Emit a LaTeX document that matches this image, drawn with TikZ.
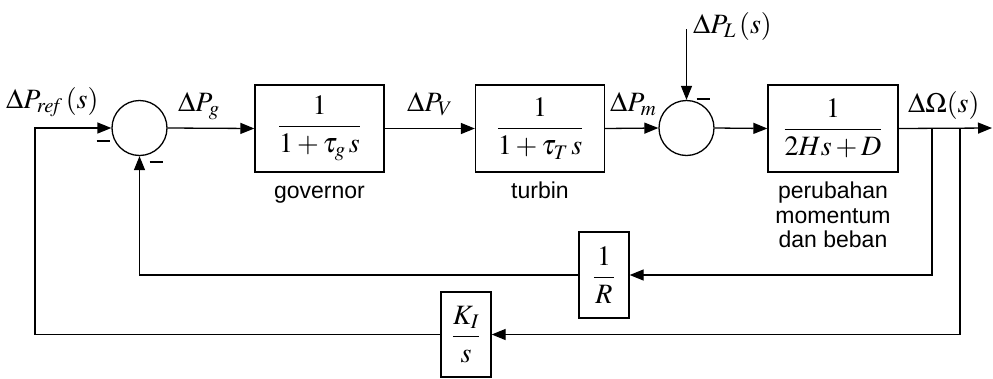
\documentclass[tikz,border=0pt]{standalone}
\usepackage{amsmath}
\usepackage{mathptmx}
\usepackage{fontspec}
\setmainfont{Liberation Serif}
\setsansfont{Liberation Sans}
\usetikzlibrary{arrows.meta}
\begin{document}
\begin{tikzpicture}[x=1pt,y=-1pt,
  arr/.style={line width=1.3pt,-{Triangle[length=14pt,width=11pt]}},
  blk/.style={draw,line width=1.3pt,inner sep=0pt,minimum width=129pt,minimum height=87pt,font=\fontsize{28}{32}\selectfont},
  sblk/.style={draw,line width=1.3pt,inner sep=0pt,minimum width=50pt,minimum height=86pt,font=\fontsize{28}{32}\selectfont},
  sumc/.style={draw,circle,line width=1.3pt,minimum size=55pt,inner sep=0pt},
  lbl/.style={inner sep=0pt,anchor=base west,font=\fontsize{28}{32}\selectfont},
  mns/.style={inner sep=0pt},
  capt/.style={inner sep=0pt,anchor=base,font=\sffamily\fontsize{23}{27}\selectfont}]
\useasboundingbox (0,0) rectangle (993,378);
% summing junctions
\node[sumc] (s1) at (139.5,128) {};
\node[sumc] (s2) at (686.5,128) {};
% blocks
\node[blk] (b1) at (319.5,128.5) {$\dfrac{\;1\;}{1+\tau_g\,s}$};
\node[blk] (b2) at (540,128.5) {$\dfrac{\;1\;}{1+\tau_T\,s}$};
\node[blk,minimum width=130pt] (b3) at (833,128.5) {$\dfrac{\;1\;}{2Hs+D}$};
\node[sblk] (rb) at (604,275) {$\dfrac{\,1\,}{R}$};
\node[sblk,minimum height=85pt] (kb) at (466,334.5) {$\dfrac{K_I}{s}$};
% captions
\node[capt] (c1) at (319.5,198) {governor};
\node[capt] (c2) at (540,198) {turbin};
\node[capt] (c3a) at (833,198) {perubahan};
\node[capt] (c3b) at (833,223) {momentum};
\node[capt] (c3c) at (833,247) {dan beban};
% signal labels
\node[lbl] (lref) at (6,108) {$\Delta P_{\mathit{ref}}\,(s)$};
\node[lbl] (lg) at (178,111) {$\Delta P_g$};
\node[lbl] (lv) at (407,111) {$\Delta P_V$};
\node[lbl] (lm) at (610,111) {$\Delta P_m$};
\node[lbl] (lL) at (693,33) {$\Delta P_L\,(s)$};
\node[lbl] (lO) at (908,112) {$\Delta\Omega(s)$};
% minus signs
\node[mns] (m1) at (103,141) {\rule{13pt}{2.2pt}};
\node[mns] (m2) at (156,162) {\rule{13pt}{2.2pt}};
\node[mns] (m3) at (703,99) {\rule{13pt}{2.2pt}};
% coordinates
\coordinate (lft) at (35,128);
\coordinate (dl) at (686.5,29);
\coordinate (out) at (992,128);
\coordinate (br1) at (932,128);
\coordinate (br2) at (960,128);
% connectors
\draw[arr] (kb.west) -| (lft) -- (s1.west);
\draw[arr] (s1.east) -- (b1.west);
\draw[arr] (b1.east) -- (b2.west);
\draw[arr] (b2.east) -- (s2.west);
\draw[arr] (dl) -- (s2.north);
\draw[arr] (s2.east) -- (b3.west);
\draw[arr] (b3.east) -- (out);
\draw[arr] (br1) |- (rb.east);
\draw[arr] (br2) |- (kb.east);
\draw[arr] (rb.west) -| (s1.south);
\end{tikzpicture}
\end{document}
